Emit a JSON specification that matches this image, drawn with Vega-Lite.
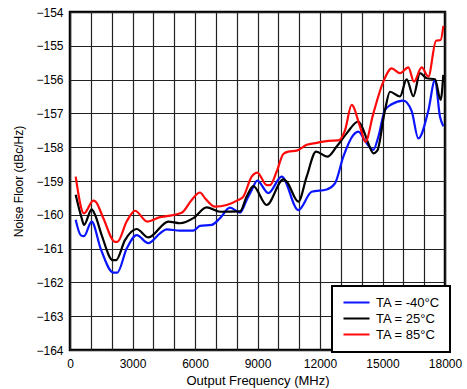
{
  "$schema": "https://vega.github.io/schema/vega-lite/v6.json",
  "width": 375,
  "height": 338,
  "autosize": {"type": "none"},
  "padding": {"left": 70, "top": 12, "right": 22, "bottom": 39},
  "background": "white",
  "config": {
    "font": "Liberation Sans",
    "view": {"stroke": "black", "strokeWidth": 2.5}
  },
  "data": {
    "values": [
      {"f": 273, "v": -160.15, "s": "TA = -40°C"},
      {"f": 510, "v": -160.6, "s": "TA = -40°C"},
      {"f": 672, "v": -160.63, "s": "TA = -40°C"},
      {"f": 1040, "v": -160.2, "s": "TA = -40°C"},
      {"f": 1470, "v": -161.0, "s": "TA = -40°C"},
      {"f": 2080, "v": -161.71, "s": "TA = -40°C"},
      {"f": 2270, "v": -161.71, "s": "TA = -40°C"},
      {"f": 2720, "v": -161.0, "s": "TA = -40°C"},
      {"f": 3200, "v": -160.6, "s": "TA = -40°C"},
      {"f": 3760, "v": -160.84, "s": "TA = -40°C"},
      {"f": 4320, "v": -160.55, "s": "TA = -40°C"},
      {"f": 4640, "v": -160.43, "s": "TA = -40°C"},
      {"f": 5280, "v": -160.47, "s": "TA = -40°C"},
      {"f": 5920, "v": -160.47, "s": "TA = -40°C"},
      {"f": 6240, "v": -160.33, "s": "TA = -40°C"},
      {"f": 6800, "v": -160.3, "s": "TA = -40°C"},
      {"f": 7200, "v": -160.1, "s": "TA = -40°C"},
      {"f": 7680, "v": -159.79, "s": "TA = -40°C"},
      {"f": 8160, "v": -159.94, "s": "TA = -40°C"},
      {"f": 8480, "v": -159.56, "s": "TA = -40°C"},
      {"f": 8720, "v": -159.27, "s": "TA = -40°C"},
      {"f": 8990, "v": -158.99, "s": "TA = -40°C"},
      {"f": 9520, "v": -159.36, "s": "TA = -40°C"},
      {"f": 10160, "v": -158.87, "s": "TA = -40°C"},
      {"f": 10960, "v": -159.86, "s": "TA = -40°C"},
      {"f": 11600, "v": -159.32, "s": "TA = -40°C"},
      {"f": 12320, "v": -159.25, "s": "TA = -40°C"},
      {"f": 12720, "v": -159.07, "s": "TA = -40°C"},
      {"f": 13120, "v": -158.28, "s": "TA = -40°C"},
      {"f": 13600, "v": -157.64, "s": "TA = -40°C"},
      {"f": 13840, "v": -157.54, "s": "TA = -40°C"},
      {"f": 14200, "v": -157.85, "s": "TA = -40°C"},
      {"f": 14560, "v": -158.08, "s": "TA = -40°C"},
      {"f": 14800, "v": -157.69, "s": "TA = -40°C"},
      {"f": 15120, "v": -156.9, "s": "TA = -40°C"},
      {"f": 15440, "v": -156.73, "s": "TA = -40°C"},
      {"f": 16000, "v": -156.62, "s": "TA = -40°C"},
      {"f": 16400, "v": -156.93, "s": "TA = -40°C"},
      {"f": 16720, "v": -157.74, "s": "TA = -40°C"},
      {"f": 17200, "v": -156.92, "s": "TA = -40°C"},
      {"f": 17520, "v": -156.01, "s": "TA = -40°C"},
      {"f": 17760, "v": -157.1, "s": "TA = -40°C"},
      {"f": 17920, "v": -157.38, "s": "TA = -40°C"},

      {"f": 273, "v": -159.41, "s": "TA = 25°C"},
      {"f": 560, "v": -160.1, "s": "TA = 25°C"},
      {"f": 672, "v": -160.3, "s": "TA = 25°C"},
      {"f": 1040, "v": -159.84, "s": "TA = 25°C"},
      {"f": 1200, "v": -160.0, "s": "TA = 25°C"},
      {"f": 1520, "v": -160.6, "s": "TA = 25°C"},
      {"f": 2050, "v": -161.34, "s": "TA = 25°C"},
      {"f": 2210, "v": -161.34, "s": "TA = 25°C"},
      {"f": 2640, "v": -160.75, "s": "TA = 25°C"},
      {"f": 3200, "v": -160.42, "s": "TA = 25°C"},
      {"f": 3760, "v": -160.67, "s": "TA = 25°C"},
      {"f": 4720, "v": -160.2, "s": "TA = 25°C"},
      {"f": 5280, "v": -160.25, "s": "TA = 25°C"},
      {"f": 5920, "v": -160.1, "s": "TA = 25°C"},
      {"f": 6560, "v": -159.78, "s": "TA = 25°C"},
      {"f": 7200, "v": -159.91, "s": "TA = 25°C"},
      {"f": 8160, "v": -159.9, "s": "TA = 25°C"},
      {"f": 8480, "v": -159.46, "s": "TA = 25°C"},
      {"f": 8800, "v": -159.15, "s": "TA = 25°C"},
      {"f": 9440, "v": -159.71, "s": "TA = 25°C"},
      {"f": 10240, "v": -158.95, "s": "TA = 25°C"},
      {"f": 10400, "v": -159.02, "s": "TA = 25°C"},
      {"f": 10960, "v": -159.61, "s": "TA = 25°C"},
      {"f": 11360, "v": -158.87, "s": "TA = 25°C"},
      {"f": 11810, "v": -158.13, "s": "TA = 25°C"},
      {"f": 12350, "v": -158.28, "s": "TA = 25°C"},
      {"f": 12800, "v": -157.98, "s": "TA = 25°C"},
      {"f": 13280, "v": -157.59, "s": "TA = 25°C"},
      {"f": 13840, "v": -157.24, "s": "TA = 25°C"},
      {"f": 14080, "v": -157.49, "s": "TA = 25°C"},
      {"f": 14320, "v": -157.89, "s": "TA = 25°C"},
      {"f": 14560, "v": -158.18, "s": "TA = 25°C"},
      {"f": 14750, "v": -158.1, "s": "TA = 25°C"},
      {"f": 15120, "v": -156.9, "s": "TA = 25°C"},
      {"f": 15360, "v": -156.36, "s": "TA = 25°C"},
      {"f": 15840, "v": -156.5, "s": "TA = 25°C"},
      {"f": 16160, "v": -155.99, "s": "TA = 25°C"},
      {"f": 16480, "v": -156.49, "s": "TA = 25°C"},
      {"f": 16800, "v": -155.81, "s": "TA = 25°C"},
      {"f": 17120, "v": -155.96, "s": "TA = 25°C"},
      {"f": 17520, "v": -155.99, "s": "TA = 25°C"},
      {"f": 17790, "v": -156.6, "s": "TA = 25°C"},
      {"f": 17920, "v": -155.86, "s": "TA = 25°C"},

      {"f": 273, "v": -158.87, "s": "TA = 85°C"},
      {"f": 672, "v": -159.96, "s": "TA = 85°C"},
      {"f": 1120, "v": -159.58, "s": "TA = 85°C"},
      {"f": 1230, "v": -159.61, "s": "TA = 85°C"},
      {"f": 1600, "v": -160.1, "s": "TA = 85°C"},
      {"f": 2160, "v": -160.8, "s": "TA = 85°C"},
      {"f": 2270, "v": -160.8, "s": "TA = 85°C"},
      {"f": 2720, "v": -160.2, "s": "TA = 85°C"},
      {"f": 3120, "v": -159.88, "s": "TA = 85°C"},
      {"f": 3710, "v": -160.2, "s": "TA = 85°C"},
      {"f": 4320, "v": -160.07, "s": "TA = 85°C"},
      {"f": 4640, "v": -160.04, "s": "TA = 85°C"},
      {"f": 5360, "v": -159.94, "s": "TA = 85°C"},
      {"f": 5840, "v": -159.56, "s": "TA = 85°C"},
      {"f": 6240, "v": -159.34, "s": "TA = 85°C"},
      {"f": 6480, "v": -159.51, "s": "TA = 85°C"},
      {"f": 6960, "v": -159.76, "s": "TA = 85°C"},
      {"f": 7520, "v": -159.71, "s": "TA = 85°C"},
      {"f": 8080, "v": -159.56, "s": "TA = 85°C"},
      {"f": 8320, "v": -159.46, "s": "TA = 85°C"},
      {"f": 8720, "v": -158.87, "s": "TA = 85°C"},
      {"f": 8990, "v": -158.75, "s": "TA = 85°C"},
      {"f": 9440, "v": -159.12, "s": "TA = 85°C"},
      {"f": 9600, "v": -159.12, "s": "TA = 85°C"},
      {"f": 9920, "v": -158.72, "s": "TA = 85°C"},
      {"f": 10240, "v": -158.2, "s": "TA = 85°C"},
      {"f": 10480, "v": -158.13, "s": "TA = 85°C"},
      {"f": 10880, "v": -158.1, "s": "TA = 85°C"},
      {"f": 11360, "v": -157.93, "s": "TA = 85°C"},
      {"f": 11840, "v": -157.87, "s": "TA = 85°C"},
      {"f": 12400, "v": -157.81, "s": "TA = 85°C"},
      {"f": 12880, "v": -157.8, "s": "TA = 85°C"},
      {"f": 13200, "v": -157.5, "s": "TA = 85°C"},
      {"f": 13520, "v": -156.75, "s": "TA = 85°C"},
      {"f": 13920, "v": -157.39, "s": "TA = 85°C"},
      {"f": 14180, "v": -157.84, "s": "TA = 85°C"},
      {"f": 14560, "v": -157.0, "s": "TA = 85°C"},
      {"f": 15040, "v": -156.06, "s": "TA = 85°C"},
      {"f": 15440, "v": -155.67, "s": "TA = 85°C"},
      {"f": 15840, "v": -155.81, "s": "TA = 85°C"},
      {"f": 16240, "v": -155.64, "s": "TA = 85°C"},
      {"f": 16510, "v": -156.06, "s": "TA = 85°C"},
      {"f": 16880, "v": -155.64, "s": "TA = 85°C"},
      {"f": 17200, "v": -155.91, "s": "TA = 85°C"},
      {"f": 17570, "v": -154.85, "s": "TA = 85°C"},
      {"f": 17790, "v": -154.83, "s": "TA = 85°C"},
      {"f": 17920, "v": -154.41, "s": "TA = 85°C"}
    ]
  },
  "mark": {"type": "line", "interpolate": "monotone", "strokeWidth": 2.2},
  "encoding": {
    "x": {
      "field": "f", "type": "quantitative",
      "scale": {"domain": [0, 18000], "nice": false},
      "axis": {
        "title": "Output Frequency (MHz)",
        "values": [0,1000,2000,3000,4000,5000,6000,7000,8000,9000,10000,11000,12000,13000,14000,15000,16000,17000,18000],
        "labelExpr": "datum.value % 3000 === 0 ? datum.value : ''",
        "format": "d",
        "grid": true, "gridColor": "#222", "gridWidth": 1.2, "gridOpacity": 1,
        "domain": false, "ticks": false,
        "labelFont": "Liberation Sans", "labelFontSize": 12, "labelColor": "black", "labelPadding": 8,
        "labelOverlap": false, "labelFlush": false,
        "titleFont": "Liberation Sans", "titleFontSize": 13, "titleFontWeight": "normal", "titleColor": "black", "titlePadding": 5
      }
    },
    "y": {
      "field": "v", "type": "quantitative",
      "scale": {"domain": [-164, -154], "nice": false, "zero": false},
      "axis": {
        "title": "Noise Floor (dBc/Hz)",
        "values": [-164,-163,-162,-161,-160,-159,-158,-157,-156,-155,-154],
        "format": "d",
        "grid": true, "gridColor": "#222", "gridWidth": 1.2, "gridOpacity": 1,
        "domain": false, "ticks": false,
        "labelFont": "Liberation Sans", "labelFontSize": 12, "labelColor": "black", "labelPadding": 7,
        "labelOverlap": false, "labelFlush": false,
        "titleFont": "Liberation Sans", "titleFontSize": 12, "titleFontWeight": "normal", "titleColor": "black", "titlePadding": 10
      }
    },
    "color": {
      "field": "s", "type": "nominal",
      "scale": {"domain": ["TA = -40°C", "TA = 25°C", "TA = 85°C"], "range": ["#0a14ff", "#000000", "#ff0a0a"]},
      "legend": {
        "title": null,
        "orient": "none", "legendX": 262, "legendY": 274,
        "fillColor": "white", "strokeColor": "black",
        "padding": 10,
        "symbolType": "M-1,0H4.2", "symbolSize": 100, "symbolStrokeWidth": 2,
        "labelFont": "Liberation Sans", "labelFontSize": 13, "labelColor": "black",
        "rowPadding": 2, "labelOffset": 21,
        "encode": {"legend": {"update": {"strokeWidth": {"value": 2}}}}
      }
    }
  }
}
